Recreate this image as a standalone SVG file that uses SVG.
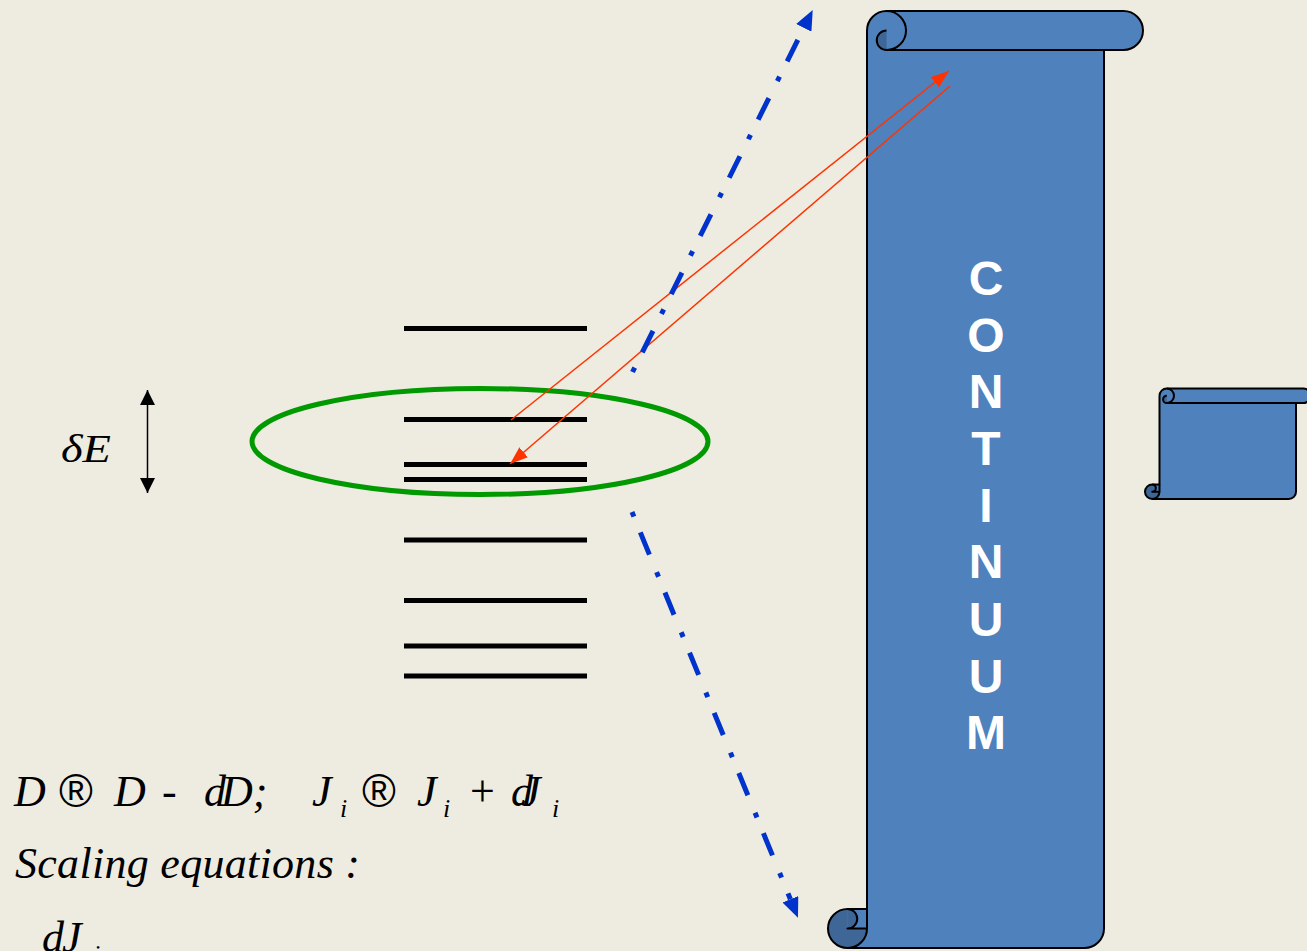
<svg xmlns="http://www.w3.org/2000/svg" width="1307" height="951" viewBox="0 0 1307 951">
<defs>
<style>
.lvl{stroke:#000;stroke-width:5;fill:none}
.eq{font-family:"Liberation Serif","Times New Roman",serif;font-style:italic;font-size:44px;fill:#000}
.up{font-family:"Liberation Serif","Times New Roman",serif;font-size:44px;fill:#000}
.sym{font-family:"Liberation Sans",Arial,sans-serif;font-size:46px;fill:#000}
.sub{font-family:"Liberation Serif","Times New Roman",serif;font-style:italic;font-size:26px;fill:#000}
.sf{fill:#4F81BD}
.sd{fill:#3E6697}
.sl{fill:none;stroke:#000;stroke-width:2;stroke-linejoin:round}
.cont{font-family:"Liberation Sans",Arial,sans-serif;font-weight:bold;font-size:48px;fill:#fff;text-anchor:middle}
.blue{stroke:#0033CC;stroke-width:5;fill:none;stroke-dasharray:5 17 24 19}
.red{stroke:#FF3300;stroke-width:1.5;fill:none}
</style>
<marker id="bluehead" markerUnits="userSpaceOnUse" markerWidth="20" markerHeight="17" refX="0" refY="8.5" orient="auto" viewBox="0 0 20 17"><path d="M0,0 L20,8.5 L0,17 z" fill="#0033CC"/></marker>
<marker id="redhead" markerUnits="userSpaceOnUse" markerWidth="18" markerHeight="13" refX="18" refY="6.5" orient="auto" viewBox="0 0 18 13"><path d="M0,0 L18,6.5 L0,13 z" fill="#FF3300"/></marker>
<marker id="blk" markerUnits="userSpaceOnUse" markerWidth="15" markerHeight="15" refX="15" refY="7.5" orient="auto-start-reverse" viewBox="0 0 15 15"><path d="M0,0 L15,7.5 L0,15 z" fill="#000"/></marker>
</defs>
<rect width="1307" height="951" fill="#EEECE1"/>

<g id="levels">
<line class="lvl" x1="404" y1="328.5" x2="587" y2="328.5"/>
<line class="lvl" x1="404" y1="419.5" x2="587" y2="419.5"/>
<line class="lvl" x1="404" y1="464.5" x2="587" y2="464.5"/>
<line class="lvl" x1="404" y1="479.5" x2="587" y2="479.5"/>
<line class="lvl" x1="404" y1="540" x2="587" y2="540"/>
<line class="lvl" x1="404" y1="600.5" x2="587" y2="600.5"/>
<line class="lvl" x1="404" y1="646" x2="587" y2="646"/>
<line class="lvl" x1="404" y1="676" x2="587" y2="676"/>
</g>

<g id="ellipse">
<ellipse cx="480" cy="441.5" rx="228" ry="53" fill="none" stroke="#009900" stroke-width="5"/>
</g>

<g id="deltaE">
<text class="eq" x="61" y="462" textLength="50" lengthAdjust="spacingAndGlyphs" style="font-size:39px">δE</text>
<line x1="147.5" y1="390" x2="147.5" y2="493" stroke="#000" stroke-width="1.5" marker-start="url(#blk)" marker-end="url(#blk)"/>
</g>

<g id="continuum">
<path class="sf" d="M867,30.5 A19.5,19.5 0 0 1 886.5,11 H1123.5 A19.5,19.5 0 0 1 1123.5,50 H1104 V928.5 A19.5,19.5 0 0 1 1084.5,948 H847.5 A19.5,19.5 0 0 1 847.5,909 H867 Z"/>
<path class="sd" d="M886.5,30.5 A9.75,9.75 0 0 0 886.5,50 Z"/>
<circle class="sd" cx="847.5" cy="928.5" r="19.5"/>
<rect class="sf" x="847.5" y="909" width="19.5" height="19.5"/>
<path class="sd" d="M847.5,909 A9.75,9.75 0 0 1 847.5,928.5 Z"/>
<path class="sl" d="M867,30.5 A19.5,19.5 0 0 1 886.5,11 H1123.5 A19.5,19.5 0 0 1 1123.5,50 H1104 V928.5 A19.5,19.5 0 0 1 1084.5,948 H847.5 A19.5,19.5 0 0 1 847.5,909 H867 Z"/>
<path class="sl" d="M886.5,11 A19.5,19.5 0 0 1 886.5,50 H1104 M886.5,30.5 A9.75,9.75 0 0 0 886.5,50"/>
<path class="sl" d="M847.5,909 A9.75,9.75 0 0 1 847.5,928.5 H867 M867,909 V928.5 A19.5,19.5 0 0 1 847.5,948"/>
<text class="cont" x="986" y="295">C</text>
<text class="cont" x="986" y="352">O</text>
<text class="cont" x="986" y="408">N</text>
<text class="cont" x="986" y="465">T</text>
<text class="cont" x="986" y="522">I</text>
<text class="cont" x="986" y="578">N</text>
<text class="cont" x="986" y="636">U</text>
<text class="cont" x="986" y="693">U</text>
<text class="cont" x="986" y="749">M</text>
</g>

<g id="small-scroll">
<path class="sf" d="M1159.5,395.75 A7.25,7.25 0 0 1 1166.75,388.5 H1303.25 A7.25,7.25 0 0 1 1303.25,403 H1296 V491.75 A7.25,7.25 0 0 1 1288.75,499 H1152.25 A7.25,7.25 0 0 1 1152.25,484.5 H1159.5 Z"/>
<path class="sd" d="M1166.75,395.75 A3.625,3.625 0 0 0 1166.75,403 Z"/>
<circle class="sd" cx="1152.25" cy="491.75" r="7.25"/>
<rect class="sf" x="1152.25" y="484.5" width="7.25" height="7.25"/>
<path class="sd" d="M1152.25,484.5 A3.625,3.625 0 0 1 1152.25,491.75 Z"/>
<path class="sl" d="M1159.5,395.75 A7.25,7.25 0 0 1 1166.75,388.5 H1303.25 A7.25,7.25 0 0 1 1303.25,403 H1296 V491.75 A7.25,7.25 0 0 1 1288.75,499 H1152.25 A7.25,7.25 0 0 1 1152.25,484.5 H1159.5 Z"/>
<path class="sl" d="M1166.75,388.5 A7.25,7.25 0 0 1 1166.75,403 H1296 M1166.75,395.75 A3.625,3.625 0 0 0 1166.75,403"/>
<path class="sl" d="M1152.25,484.5 A3.625,3.625 0 0 1 1152.25,491.75 H1159.5 M1159.5,484.5 V491.75 A7.25,7.25 0 0 1 1152.25,499"/>
</g>

<g id="equations">
<text class="eq" x="14" y="806">D</text>
<text class="sym" x="59" y="807">®</text>
<text class="eq" x="114" y="806">D</text>
<text class="up" x="162" y="806">-</text>
<text class="eq" x="204" y="806">d<tspan dx="-5">D;</tspan></text>
<text class="eq" x="312" y="806">J</text>
<text class="sub" x="340" y="817">i</text>
<text class="sym" x="362" y="807">®</text>
<text class="eq" x="417" y="806">J</text>
<text class="sub" x="443" y="817">i</text>
<text class="up" x="470" y="806">+</text>
<text class="eq" x="511" y="806">d<tspan dx="-12">J</tspan></text>
<text class="sub" x="552" y="817">i</text>
<text class="eq" x="15" y="878" textLength="345">Scaling equations :</text>
<text class="eq" x="42" y="952">d<tspan dx="-2">J</tspan></text>
<text class="sub" x="93" y="963">i</text>
<text class="eq" x="328" y="980">D</text>
<text class="eq" x="360" y="980">D</text>
</g>

<g id="connectors">
<path class="red" d="M511,420 L949,71" marker-end="url(#redhead)"/>
<path class="red" d="M950,86 L510,464" marker-end="url(#redhead)"/>
<path class="blue" d="M632.5,372 L803.8,27.9" marker-end="url(#bluehead)"/>
<path class="blue" d="M632,512 L790.4,899.2" marker-end="url(#bluehead)"/>
</g>
</svg>
